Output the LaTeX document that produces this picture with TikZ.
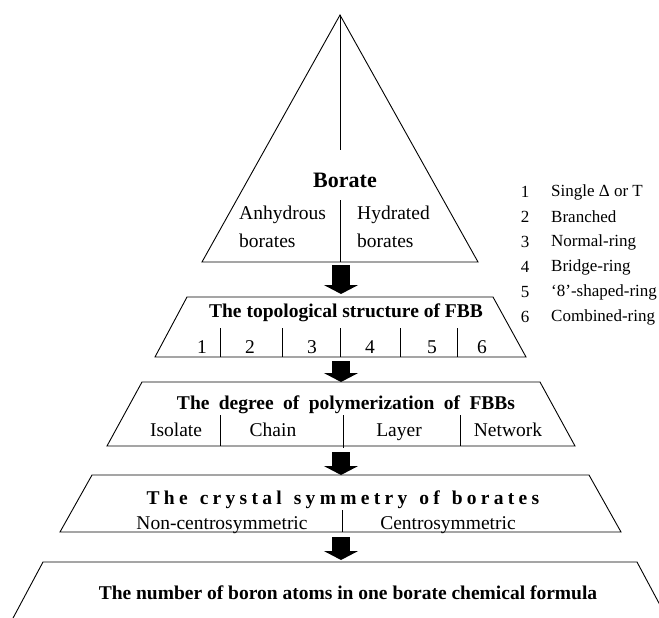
\documentclass[tikz,border=0pt]{standalone}
\usepackage{fontspec}
\setmainfont{Liberation Serif}
\usetikzlibrary{arrows.meta}
\newcommand\polywords{\spaceskip=9.4pt\relax}
\newcommand\symwords{\addfontfeature{LetterSpace=22}\spaceskip=12pt\relax}
\tikzset{
  outline/.style={line width=0.9pt, line join=miter},
  flow/.style={line width=18pt, -{Triangle[width=34pt,length=9pt]}},
  txt/.style={inner sep=0pt, font=\fontsize{19.5}{22}\selectfont},
  ttl/.style={inner sep=0pt, font=\fontsize{19.5}{22}\selectfont\bfseries},
  leg/.style={inner sep=0pt, font=\fontsize{17}{20}\selectfont},
}
\begin{document}
\begin{tikzpicture}[x=1pt,y=-1pt]
\useasboundingbox (0,0) rectangle (659,618);
\clip (0,0) rectangle (659,618);
% ---------- triangle ----------
\coordinate (apex) at (340,15);
\coordinate (tbl) at (202,262);
\coordinate (tbr) at (478,262);
\draw[outline] (apex) -- (tbr) -- (tbl) -- cycle;
\coordinate (d0a) at (340,150);
\draw[outline] (apex) -- (d0a);
\coordinate (d0b) at (340,200);
\coordinate (d0c) at (340,262);
\draw[outline] (d0b) -- (d0c);
\node[inner sep=0pt, font={\fontsize{22}{24}\selectfont\bfseries}] (borate) at (345,180) {Borate};
\node[txt, anchor=west] (anh1) at (239,215) {Anhydrous};
\node[txt, anchor=west] (anh2) at (239,241) {borates};
\node[txt, anchor=west] (hyd1) at (357,215) {Hydrated};
\node[txt, anchor=west] (hyd2) at (357,241) {borates};
% ---------- arrow 1 ----------
\coordinate (a1s) at (341,265);
\coordinate (a1e) at (341,294);
\draw[flow] (a1s) -- (a1e);
% ---------- trapezoid 1 ----------
\coordinate (p1tl) at (187,297);
\coordinate (p1tr) at (493,297);
\coordinate (p1br) at (526,357);
\coordinate (p1bl) at (155,357);
\draw[outline] (p1tl) -- (p1tr) -- (p1br) -- (p1bl) -- cycle;
\node[ttl] (topo) at (346,313) {The topological structure of FBB};
\foreach \x [count=\i] in {220,282,340,400,457}{
  \coordinate (v1t\i) at (\x,328);
  \coordinate (v1b\i) at (\x,357);
  \draw[outline] (v1t\i) -- (v1b\i);
}
\node[txt] (n1) at (202,347) {1};
\node[txt] (n2) at (250,347) {2};
\node[txt] (n3) at (312,347) {3};
\node[txt] (n4) at (370,347) {4};
\node[txt] (n5) at (432,347) {5};
\node[txt] (n6) at (482,347) {6};
% ---------- legend ----------
\foreach \t [count=\i] in {Single Δ or T, Branched, Normal-ring, Bridge-ring, ‘8’-shaped-ring, Combined-ring}{
  \node[leg] (ln\i) at (525,{192+25*(\i-1)}) {\i};
  \node[leg, anchor=west] (lt\i) at (551,{192+25*(\i-1)}) {\t};
}
% ---------- arrow 2 ----------
\coordinate (a2s) at (341,361);
\coordinate (a2e) at (341,382);
\draw[flow] (a2s) -- (a2e);
% ---------- trapezoid 2 ----------
\coordinate (p2tl) at (142,382);
\coordinate (p2tr) at (540,382);
\coordinate (p2br) at (575,446);
\coordinate (p2bl) at (107,446);
\draw[outline] (p2tl) -- (p2tr) -- (p2br) -- (p2bl) -- cycle;
\node[ttl, font={\fontsize{19.5}{22}\selectfont\bfseries\polywords}] (poly) at (346,405) {The degree of polymerization of FBBs};
\coordinate (v2t1) at (220,415); \coordinate (v2b1) at (220,446);
\coordinate (v2t2) at (343,415); \coordinate (v2b2) at (343,448);
\coordinate (v2t3) at (460,415); \coordinate (v2b3) at (460,446);
\draw[outline] (v2t1) -- (v2b1);
\draw[outline] (v2t2) -- (v2b2);
\draw[outline] (v2t3) -- (v2b3);
\node[txt, anchor=base] (iso) at (176,436.5) {Isolate};
\node[txt, anchor=base] (chain) at (273,436.5) {Chain};
\node[txt, anchor=base] (layer) at (399,436.5) {Layer};
\node[txt, anchor=base] (net) at (508,436.5) {Network};
% ---------- arrow 3 ----------
\coordinate (a3s) at (341,452);
\coordinate (a3e) at (341,475);
\draw[flow] (a3s) -- (a3e);
% ---------- trapezoid 3 ----------
\coordinate (p3tl) at (92,475);
\coordinate (p3tr) at (589,475);
\coordinate (p3br) at (621,532);
\coordinate (p3bl) at (60,532);
\draw[outline] (p3tl) -- (p3tr) -- (p3br) -- (p3bl) -- cycle;
\node[ttl, font={\fontsize{19.5}{22}\selectfont\bfseries\symwords}] (sym) at (343,500) {The crystal symmetry of borates};
\coordinate (v3t) at (342,510); \coordinate (v3b) at (342,532);
\draw[outline] (v3t) -- (v3b);
\node[txt, anchor=base] (ncs) at (222,529) {Non-centrosymmetric};
\node[txt, anchor=base] (cs) at (448,529) {Centrosymmetric};
% ---------- arrow 4 ----------
\coordinate (a4s) at (341,537);
\coordinate (a4e) at (341,560);
\draw[flow] (a4s) -- (a4e);
% ---------- trapezoid 4 ----------
\coordinate (p4tl) at (43,562);
\coordinate (p4tr) at (637,562);
\coordinate (p4br) at (668,620);
\coordinate (p4bl) at (12,620);
\draw[outline] (p4bl) -- (p4tl) -- (p4tr) -- (p4br);
\node[ttl] (num) at (348,593) {The number of boron atoms in one borate chemical formula};
\end{tikzpicture}
\end{document}
